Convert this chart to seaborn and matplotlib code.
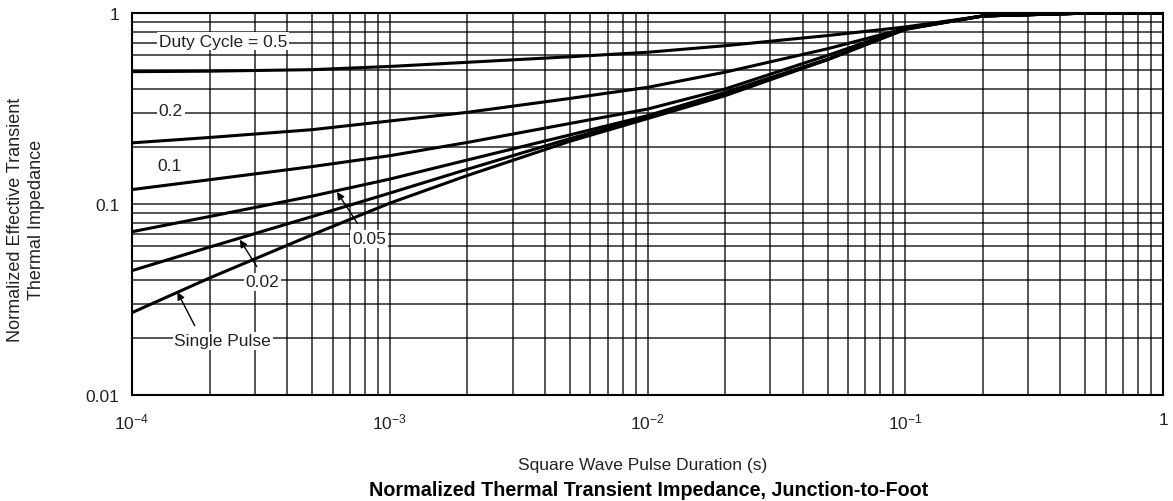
import numpy as np
import pandas as pd
import matplotlib
matplotlib.use("Agg")
import matplotlib.pyplot as plt
import seaborn as sns

# ---------------- data ----------------
pulse_duration = [1e-4, 2e-4, 5e-4, 1e-3, 2e-3, 5e-3, 1e-2, 2e-2, 5e-2, 1e-1, 2e-1, 5e-1, 1.0]

duty_05 = [0.493, 0.496, 0.505, 0.525, 0.552, 0.590, 0.623, 0.674, 0.762, 0.845, 0.965, 0.998, 1.0]
duty_02 = [0.209, 0.223, 0.245, 0.272, 0.302, 0.357, 0.408, 0.490, 0.650, 0.830, 0.965, 0.998, 1.0]
duty_01 = [0.119, 0.134, 0.157, 0.179, 0.210, 0.264, 0.314, 0.400, 0.600, 0.830, 0.965, 0.998, 1.0]
duty_005 = [0.0716, 0.086, 0.110, 0.135, 0.170, 0.230, 0.290, 0.384, 0.574, 0.825, 0.965, 0.998, 1.0]
duty_002 = [0.0448, 0.0595, 0.086, 0.114, 0.152, 0.220, 0.285, 0.378, 0.570, 0.825, 0.965, 0.998, 1.0]
single_pulse = [0.027, 0.041, 0.069, 0.101, 0.141, 0.213, 0.280, 0.369, 0.570, 0.820, 0.965, 0.998, 1.0]

series_names = ["0.5", "0.2", "0.1", "0.05", "0.02", "Single"]
series_values = [duty_05, duty_02, duty_01, duty_005, duty_002, single_pulse]

label_texts = ["Duty Cycle = 0.5", "0.2", "0.1", "0.05", "0.02", "Single Pulse"]

x_ticks = [1e-4, 1e-3, 1e-2, 1e-1, 1]
x_tick_labels = ["10$^{-4}$", "10$^{-3}$", "10$^{-2}$", "10$^{-1}$", "1"]
y_ticks = [0.01, 0.1, 1]
y_tick_labels = ["0.01", "0.1", "1"]

# ---------------- layout (label positions) ----------------
label_pos = [(1.27e-4, 0.713), (1.27e-4, 0.307), (1.25e-4, 0.160),
             (8.3e-4, 0.0656), (3.2e-4, 0.0391), (2.25e-4, 0.0192)]
label_ha = ["left", "left", "left", "center", "center", "center"]
arrows = [  # (tip, tail) for labels with pointer
    ((6.24e-4, 0.1157), (7.5e-4, 0.0790)),
    ((2.62e-4, 0.0650), (3.05e-4, 0.0470)),
    ((1.50e-4, 0.0346), (1.75e-4, 0.0231)),
]

# ---------------- figure ----------------
sns.set_style("white")
plt.rcParams["font.family"] = ["Liberation Sans", "DejaVu Sans"]
plt.rcParams["mathtext.fontset"] = "custom"
plt.rcParams["mathtext.rm"] = "Liberation Sans"
plt.rcParams["mathtext.default"] = "regular"

fig = plt.figure(figsize=(11.73, 5.02), dpi=100)
ax = fig.add_axes([132 / 1173, 1 - 396 / 502, (1163 - 132) / 1173, (396 - 14) / 502])

df = pd.concat(
    [pd.DataFrame({"t": pulse_duration, "z": vals, "series": name})
     for name, vals in zip(series_names, series_values)],
    ignore_index=True,
)

ax.set_xscale("log")
ax.set_yscale("log")

sns.lineplot(data=df, x="t", y="z", hue="series", palette=["black"] * len(series_names),
             legend=False, linewidth=2.2, ax=ax, zorder=3, estimator=None, sort=True)

ax.set_xlim(1e-4, 1)
ax.set_ylim(0.01, 1)

ax.grid(True, which="both", color="black", linewidth=1.1, alpha=0.85)
ax.set_axisbelow(True)

ax.set_xticks(x_ticks)
ax.set_xticklabels(x_tick_labels)
ax.set_yticks(y_ticks)
ax.set_yticklabels(y_tick_labels)
ax.tick_params(axis="both", which="both", length=0, labelsize=12.5, colors="#222222")
ax.tick_params(axis="x", pad=12)
ax.tick_params(axis="y", pad=9)

for s in ax.spines.values():
    s.set_visible(True)
    s.set_color("black")
    s.set_linewidth(1.5)

ax.set_xlabel("")
ax.set_ylabel("")

for txt, (lx, ly), ha in zip(label_texts, label_pos, label_ha):
    ax.text(lx, ly, txt, ha=ha, va="center", fontsize=12.5, color="#222222", zorder=5,
            bbox=dict(facecolor="white", edgecolor="none", pad=1.2))

for tip, tail in arrows:
    ax.annotate("", xy=tip, xytext=tail,
                arrowprops=dict(arrowstyle="-|>", color="black", lw=1.0,
                                mutation_scale=11, shrinkA=0, shrinkB=0), zorder=6)

fig.text(643 / 1173, 1 - 466 / 502, "Square Wave Pulse Duration (s)", ha="center", va="center",
         fontsize=12.5, color="#222222")
fig.text(649 / 1173, 1 - 491 / 502, "Normalized Thermal Transient Impedance, Junction-to-Foot",
         ha="center", va="center", fontsize=14.2, fontweight="bold", color="black")
fig.text(26 / 1173, 1 - 220 / 502, "Normalized Effective Transient\nThermal Impedance",
         ha="center", va="center", rotation=90, fontsize=13, color="#222222", linespacing=1.25)

fig.savefig("out.png", dpi=100)
